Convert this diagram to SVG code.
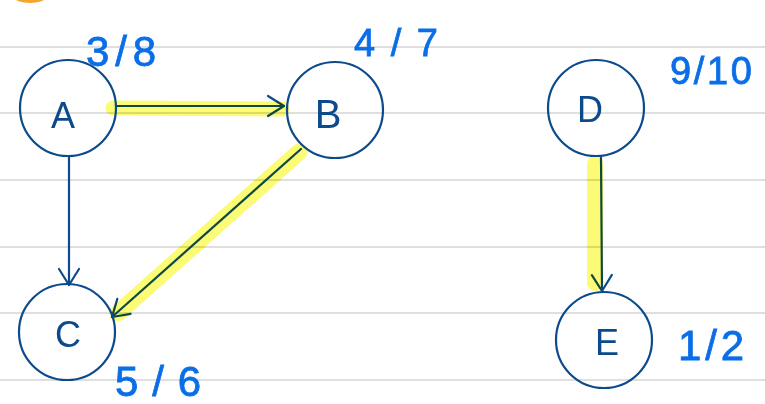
<svg xmlns="http://www.w3.org/2000/svg" width="765" height="404" viewBox="0 0 765 404">
<style>
.rule{stroke:#d4d4d4;stroke-width:1.6;fill:none}
.node{fill:none;stroke:#0d4a8c;stroke-width:2.2}
.letter{font-family:"Liberation Sans",Arial,sans-serif;font-size:36px;fill:#0d4a8c;text-anchor:middle}
.frac{font-family:"Liberation Sans",Arial,sans-serif;font-size:42px;fill:#0a6ee8;stroke:#0a6ee8;stroke-width:0.8}
.edge{fill:none;stroke:#0d4a8c;stroke-width:2.2;stroke-linecap:round}
.hl{fill:none;stroke:#fbfb6e;stroke-linecap:round;stroke-linejoin:round;mix-blend-mode:multiply;opacity:0.95}
</style>
<defs>
<marker id="arr" markerUnits="userSpaceOnUse" markerWidth="40" markerHeight="40" refX="20" refY="20" orient="auto" viewBox="0 0 40 40">
<path d="M4 10 L20 20 L4 30" fill="none" stroke="#0d4a8c" stroke-width="2.2" stroke-linecap="round" stroke-linejoin="round"/>
</marker>
</defs>
<rect width="765" height="404" fill="#ffffff"/>
<g id="paper">
<line class="rule" x1="0" y1="47" x2="765" y2="47"/>
<line class="rule" x1="0" y1="113" x2="765" y2="113"/>
<line class="rule" x1="0" y1="180" x2="765" y2="180"/>
<line class="rule" x1="0" y1="247" x2="765" y2="247"/>
<line class="rule" x1="0" y1="313" x2="765" y2="313"/>
<line class="rule" x1="0" y1="380" x2="765" y2="380"/>
<ellipse cx="30" cy="-2" rx="15" ry="5" fill="#f5a52a"/>
</g>
<g id="connectors">
<line class="edge" x1="116" y1="106" x2="284" y2="106" marker-end="url(#arr)"/>
<line class="edge" x1="69" y1="156" x2="69" y2="285" marker-end="url(#arr)"/>
<line class="edge" x1="301" y1="149" x2="112" y2="317" marker-end="url(#arr)"/>
<line class="edge" x1="601" y1="157" x2="602" y2="291" marker-end="url(#arr)"/>
<path class="hl" stroke-width="15" d="M113 108 L282 109"/>
<path class="hl" stroke-width="17" d="M299 152 L118 313"/>
<path class="hl" stroke-width="16" d="M595 164 L595 283"/>
</g>
<g id="node-A">
<circle class="node" cx="68" cy="108" r="48"/>
<text class="letter" x="63" y="128">A</text>
</g>
<g id="node-B">
<circle class="node" cx="335" cy="110" r="48"/>
<text class="letter" x="328" y="128" style="font-size:40px">B</text>
</g>
<g id="node-C">
<circle class="node" cx="67" cy="332" r="48"/>
<text class="letter" x="68" y="347">C</text>
</g>
<g id="node-D">
<circle class="node" cx="596" cy="108" r="48"/>
<text class="letter" x="590" y="122">D</text>
</g>
<g id="node-E">
<circle class="node" cx="604" cy="340" r="48"/>
<text class="letter" x="607" y="355">E</text>
</g>
<g id="labels">
<text class="frac" x="86" y="66" textLength="70" lengthAdjust="spacing">3/8</text>
<text class="frac" x="354" y="56" textLength="84" lengthAdjust="spacing" style="font-size:38px">4/7</text>
<text class="frac" x="670" y="84" textLength="82" lengthAdjust="spacing" style="font-size:38px">9/10</text>
<text class="frac" x="115" y="396" textLength="86" lengthAdjust="spacing">5/6</text>
<text class="frac" x="678" y="360" textLength="66" lengthAdjust="spacing">1/2</text>
</g>
</svg>
